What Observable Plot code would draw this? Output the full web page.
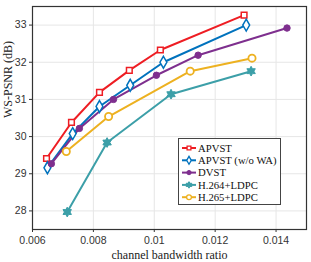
<!DOCTYPE html>
<html><head><meta charset="utf-8">
<script src="https://cdn.jsdelivr.net/npm/d3@7"></script>
<script src="https://cdn.jsdelivr.net/npm/@observablehq/plot@0.6"></script>
<style>body{margin:0;background:#fff}</style>
</head><body><div id="chart"></div>
<script>
const seriesNames = ["APVST", "APVST (w/o WA)", "DVST", "H.264+LDPC", "H.265+LDPC"];
const apvstX = [0.00646, 0.00728, 0.00820, 0.00918, 0.01020, 0.01295];
const apvstY = [29.41, 30.38, 31.19, 31.78, 32.33, 33.27];
const woWaX = [0.00649, 0.00732, 0.00820, 0.00921, 0.01030, 0.01302];
const woWaY = [29.16, 30.08, 30.81, 31.38, 32.00, 33.00];
const dvstX = [0.00662, 0.00754, 0.00866, 0.01007, 0.01144, 0.01436];
const dvstY = [29.27, 30.22, 31.00, 31.65, 32.19, 32.92];
const h264X = [0.00714, 0.00845, 0.01055, 0.01318];
const h264Y = [27.97, 29.84, 31.14, 31.76];
const h265X = [0.00711, 0.00850, 0.01118, 0.01321];
const h265Y = [29.60, 30.54, 31.76, 32.11];
const xTicks = [0.006, 0.008, 0.010, 0.012, 0.014];
const xTickLabels = ["0.006", "0.008", "0.01", "0.012", "0.014"];
const yTicks = [28, 29, 30, 31, 32, 33];
const yTickLabels = ["28", "29", "30", "31", "32", "33"];
const xLabel = "channel bandwidth ratio";
const yLabel = "WS-PSNR (dB)";

const hexagram = {
  draw(ctx, size) {
    const r = Math.sqrt(size / Math.PI) * 1.35;
    const ri = r / Math.sqrt(3);
    for (let k = 0; k < 12; k++) {
      const a = -Math.PI / 2 + k * Math.PI / 6;
      const rr = k % 2 === 0 ? r : ri;
      const px = rr * Math.cos(a), py = rr * Math.sin(a);
      if (k === 0) ctx.moveTo(px, py); else ctx.lineTo(px, py);
    }
    ctx.closePath();
  }
};

const styles = [
  {color: "#ee1d23", symbol: "square", fill: "white", r: 3.2, sw: 1.5},
  {color: "#0072bd", symbol: "diamond", fill: "white", r: 3.6, sw: 1.5},
  {color: "#7e2f8e", symbol: "circle", fill: "#7e2f8e", r: 3.2, sw: 1},
  {color: "#3c9fa8", symbol: hexagram, fill: "#3c9fa8", r: 3.6, sw: 1},
  {color: "#edb120", symbol: "circle", fill: "white", r: 3.6, sw: 1.8}
];
const xsAll = [apvstX, woWaX, dvstX, h264X, h265X];
const ysAll = [apvstY, woWaY, dvstY, h264Y, h265Y];
const data = seriesNames.map((name, s) => xsAll[s].map((x, i) => ({series: name, x, y: ysAll[s][i]})));

const marks = [
  Plot.gridX(xTicks, {stroke: "#e6e6e6", strokeOpacity: 1}),
  Plot.gridY(yTicks, {stroke: "#e6e6e6", strokeOpacity: 1}),
];
data.forEach((d, s) => {
  const st = styles[s];
  marks.push(Plot.line(d, {x: "x", y: "y", stroke: st.color, strokeWidth: 2}));
});
data.forEach((d, s) => {
  const st = styles[s];
  marks.push(Plot.dot(d, {x: "x", y: "y", symbol: () => st.symbol, r: st.r, fill: st.fill, stroke: st.color, strokeWidth: st.sw}));
});
marks.push(
  Plot.frame({stroke: "#333", strokeWidth: 1.2}),
  Plot.axisX(xTicks, {tickSize: 3, tickPadding: 4, tickFormat: (d, i) => xTickLabels[i], fontSize: 10.5, fontFamily: "Liberation Sans, Arial, sans-serif", fill: "#333", stroke: "#333", label: null}),
  Plot.axisY(yTicks, {tickSize: 3, tickPadding: 3, tickFormat: (d, i) => yTickLabels[i], fontSize: 10.5, fontFamily: "Liberation Sans, Arial, sans-serif", fill: "#333", stroke: "#333", label: null}),
  Plot.text([xLabel], {frameAnchor: "bottom", dy: 29, text: d => d, fontSize: 12, fontFamily: "Liberation Serif, Times New Roman, serif", fill: "#222"}),
  Plot.text([yLabel], {frameAnchor: "left", dx: -24, rotate: -90, text: d => d, fontSize: 12, fontFamily: "Liberation Serif, Times New Roman, serif", fill: "#222"})
);

const chart = Plot.plot({
  width: 311, height: 262,
  marginLeft: 32, marginRight: 5, marginTop: 6, marginBottom: 33,
  x: {domain: [0.006, 0.015]},
  y: {domain: [27.5, 33.5]},
  style: {background: "white", overflow: "visible"},
  marks
});
document.getElementById("chart").appendChild(chart);

// Legend box in the lower-right region of the plot area
const svg = d3.select(chart);
const lg = svg.append("g").attr("text-anchor", "start");
lg.append("rect").attr("x", 178.5).attr("y", 138.5).attr("width", 102).attr("height", 66)
  .attr("fill", "white").attr("stroke", "#444").attr("stroke-width", 1);
const symMap = {square: d3.symbolSquare, diamond: d3.symbolDiamond, circle: d3.symbolCircle};
seriesNames.forEach((name, s) => {
  const st = styles[s];
  const cy = 148 + s * 12.3;
  lg.append("line").attr("x1", 182).attr("x2", 196).attr("y1", cy).attr("y2", cy)
    .attr("stroke", st.color).attr("stroke-width", 2);
  const t = typeof st.symbol === "string" ? symMap[st.symbol] : st.symbol;
  lg.append("path").attr("transform", `translate(189,${cy})`)
    .attr("d", d3.symbol(t, Math.PI * st.r * st.r * 0.45)())
    .attr("fill", st.fill).attr("stroke", st.color).attr("stroke-width", Math.min(st.sw, 1.3));
  lg.append("text").attr("x", 198).attr("y", cy).attr("dy", "0.35em")
    .attr("text-anchor", "start")
    .attr("font-family", "Liberation Serif, Times New Roman, serif").attr("font-size", 10.7)
    .attr("fill", "#111").text(name);
});
</script>
</body></html>
